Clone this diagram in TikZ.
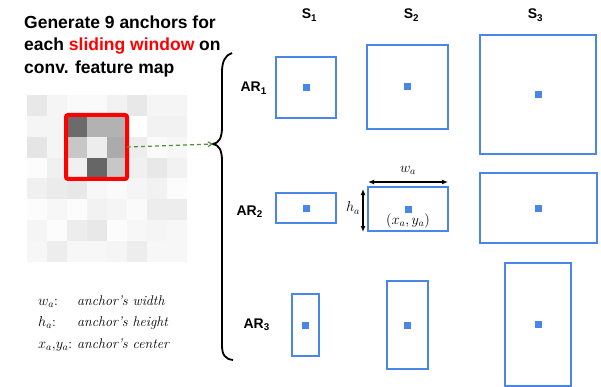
\documentclass[tikz,border=0pt]{standalone}
\usepackage{fontspec}
\setsansfont{Liberation Sans}
\usetikzlibrary{arrows.meta,calc}
\definecolor{ancblue}{RGB}{74,134,232}
\definecolor{winred}{RGB}{255,0,0}
\definecolor{dashgreen}{RGB}{88,140,60}
\tikzset{
  anc/.style={draw=ancblue,line width=2pt,inner sep=0pt,outer sep=0pt},
  ctr/.style={fill=ancblue,inner sep=0pt,minimum size=7pt},
  lab/.style={font=\fontsize{14}{16}\selectfont\sffamily\bfseries,inner sep=0pt},
  dimarrow/.style={line width=1.5pt,{Latex[length=6pt,width=5pt]}-{Latex[length=6pt,width=5pt]}},
  mathlab/.style={font=\fontsize{14}{16}\selectfont,inner sep=0pt}
}
\begin{document}
\begin{tikzpicture}[x=1pt,y=-1pt]
\useasboundingbox (0,0) rectangle (601,387);
% title
\node[anchor=base west,inner sep=0pt,align=left,font=\fontsize{17.5}{22.5}\selectfont\sffamily\bfseries] (title) at (24,73.5)
  {Generate 9 anchors for\\each \textcolor{winred}{sliding window} on\\conv. feature map};
% feature map
\foreach \rowvals [count=\r from 0] in {{9,4,2,2,5,9,4,4},{4,4,58,30,30,0,5,5},{10,4,22,7,33,7,2,3},{1,6,6,60,22,6,9,5},{6,8,9,3,2,4,5,1},{1,3,1,5,4,2,7,7},{4,1,7,9,1,3,4,3},{3,7,3,3,4,7,3,3}}{
  \foreach \p [count=\c from 0] in \rowvals {
    \fill[black!\p] (27+20*\c,95+20.875*\r) rectangle ++(20.3,21.2);
  }
}
\node[draw=winred,line width=4pt,rounded corners=2pt,minimum width=61pt,minimum height=64pt,inner sep=0pt,outer sep=0pt] (win) at (96.5,147) {};
% brace
\coordinate (tip) at (213,144);
\draw[line width=1.8pt] (232,53) .. controls (225,55) and (222,62) .. (222,72) -- (222,127) .. controls (222,138) and (219,143) .. (tip) .. controls (219,145) and (222,150) .. (222,161) -- (222,345) .. controls (222,355) and (225,359) .. (233,360);
\draw[dashgreen,line width=1.2pt,dash pattern=on 4pt off 3pt,-{Straight Barb[length=4pt,width=5pt]}] (win.east) -- (tip);
% column and row labels
\node[lab,anchor=base] (s1) at (309.5,19) {S\textsubscript{1}};
\node[lab,anchor=base] (s2) at (411.5,19) {S\textsubscript{2}};
\node[lab,anchor=base] (s3) at (535.5,19) {S\textsubscript{3}};
\node[lab,anchor=base east] (ar1) at (267,92) {AR\textsubscript{1}};
\node[lab,anchor=base east] (ar2) at (263,215) {AR\textsubscript{2}};
\node[lab,anchor=base east] (ar3) at (270,328) {AR\textsubscript{3}};
% anchor boxes
\node[anc,minimum width=60pt,minimum height=61pt] (b11) at (306,87.5) {};
\node[anc,minimum width=81pt,minimum height=84pt] (b12) at (407.5,87) {};
\node[anc,minimum width=116pt,minimum height=119pt] (b13) at (538,94.5) {};
\node[anc,minimum width=60pt,minimum height=30pt] (b21) at (306,208) {};
\node[anc,minimum width=80pt,minimum height=44pt] (b22) at (408,209) {};
\node[anc,minimum width=117pt,minimum height=70pt] (b23) at (538.5,208) {};
\node[anc,minimum width=27pt,minimum height=62pt] (b31) at (305.5,325) {};
\node[anc,minimum width=41pt,minimum height=88pt] (b32) at (407.5,325) {};
\node[anc,minimum width=66pt,minimum height=123pt] (b33) at (538,324.5) {};
\foreach \b in {11,12,13,21,22,23,31,32,33}{
  \node[ctr] (d\b) at (b\b.center) {};
}
% dimensions
\coordinate (wl) at (368,182);
\coordinate (wr) at (448,182);
\coordinate (ht) at (363,189);
\coordinate (hb) at (363,232);
\draw[dimarrow] (wl) -- (wr);
\draw[dimarrow] (ht) -- (hb);
\node[mathlab] (wa) at (408,170) {$w_a$};
\node[mathlab] (ha) at (353,208) {$h_a$};
\node[mathlab] (xy) at (408,221) {$(x_a, y_a)$};
% legend
\node[anchor=base west,inner sep=0pt,align=left,font=\fontsize{14}{21.5}\selectfont] (legend) at (38,348)
  {\makebox[39pt][l]{$w_a$:}\textit{anchor’s width}\\
   \makebox[39pt][l]{$h_a$:}\textit{anchor’s height}\\
   \makebox[39pt][l]{$x_a$,$y_a$:}\textit{anchor’s center}};
\end{tikzpicture}
\end{document}
